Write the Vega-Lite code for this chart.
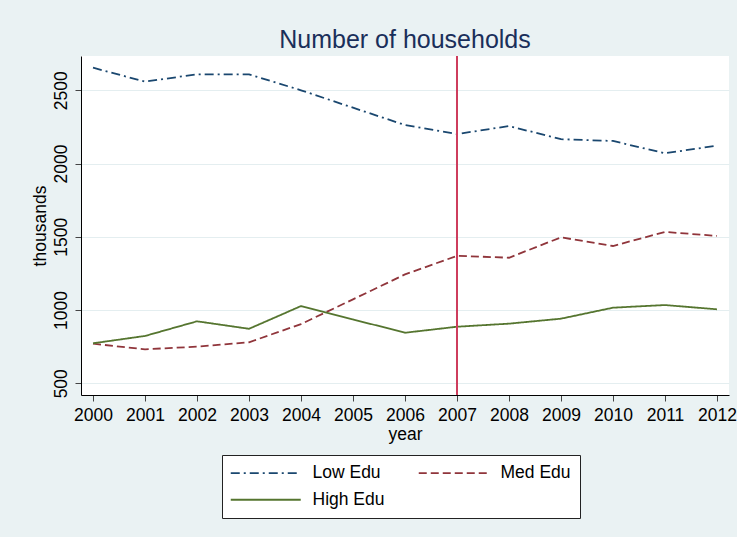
{
  "$schema": "https://vega.github.io/schema/vega-lite/v6.json",
  "width": 648,
  "height": 339,
  "autosize": {"type": "none"},
  "padding": {"left": 81, "top": 56, "right": 8, "bottom": 142},
  "background": "#EAF2F3",
  "title": {
    "text": "Number of households",
    "fontSize": 25,
    "font": "Liberation Sans",
    "fontWeight": "normal",
    "color": "#1A2F5A",
    "anchor": "middle",
    "frame": "group",
    "baseline": "alphabetic",
    "offset": -18
  },
  "config": {
    "view": {"fill": "white", "stroke": null},
    "axis": {
      "labelFont": "Liberation Sans",
      "titleFont": "Liberation Sans",
      "labelFontSize": 17.5,
      "titleFontSize": 17.5,
      "labelColor": "black",
      "titleColor": "black",
      "titleFontWeight": "normal",
      "domainColor": "black",
      "domainWidth": 1,
      "tickColor": "#444",
      "tickSize": 6,
      "gridColor": "#E4EEF0",
      "gridWidth": 1
    }
  },
  "layer": [
    {
      "data": {
        "values": [
          {"year": 2000, "series": "Low Edu", "value": 2654},
          {"year": 2001, "series": "Low Edu", "value": 2559},
          {"year": 2002, "series": "Low Edu", "value": 2609},
          {"year": 2003, "series": "Low Edu", "value": 2609},
          {"year": 2004, "series": "Low Edu", "value": 2500},
          {"year": 2005, "series": "Low Edu", "value": 2381},
          {"year": 2006, "series": "Low Edu", "value": 2263},
          {"year": 2007, "series": "Low Edu", "value": 2201},
          {"year": 2008, "series": "Low Edu", "value": 2256},
          {"year": 2009, "series": "Low Edu", "value": 2166},
          {"year": 2010, "series": "Low Edu", "value": 2154},
          {"year": 2011, "series": "Low Edu", "value": 2070},
          {"year": 2012, "series": "Low Edu", "value": 2122},
          {"year": 2000, "series": "Med Edu", "value": 770},
          {"year": 2001, "series": "Med Edu", "value": 732},
          {"year": 2002, "series": "Med Edu", "value": 750},
          {"year": 2003, "series": "Med Edu", "value": 780},
          {"year": 2004, "series": "Med Edu", "value": 904},
          {"year": 2005, "series": "Med Edu", "value": 1073},
          {"year": 2006, "series": "Med Edu", "value": 1243},
          {"year": 2007, "series": "Med Edu", "value": 1370},
          {"year": 2008, "series": "Med Edu", "value": 1357},
          {"year": 2009, "series": "Med Edu", "value": 1496},
          {"year": 2010, "series": "Med Edu", "value": 1437},
          {"year": 2011, "series": "Med Edu", "value": 1533},
          {"year": 2012, "series": "Med Edu", "value": 1506},
          {"year": 2000, "series": "High Edu", "value": 773},
          {"year": 2001, "series": "High Edu", "value": 823},
          {"year": 2002, "series": "High Edu", "value": 923},
          {"year": 2003, "series": "High Edu", "value": 872},
          {"year": 2004, "series": "High Edu", "value": 1027},
          {"year": 2005, "series": "High Edu", "value": 936},
          {"year": 2006, "series": "High Edu", "value": 845},
          {"year": 2007, "series": "High Edu", "value": 886},
          {"year": 2008, "series": "High Edu", "value": 907},
          {"year": 2009, "series": "High Edu", "value": 941},
          {"year": 2010, "series": "High Edu", "value": 1016},
          {"year": 2011, "series": "High Edu", "value": 1034},
          {"year": 2012, "series": "High Edu", "value": 1005}
        ]
      },
      "mark": {"type": "line", "strokeWidth": 1.8},
      "encoding": {
        "x": {
          "field": "year",
          "type": "quantitative",
          "scale": {"domain": [1999.769, 2012.231], "nice": false, "zero": false},
          "axis": {
            "values": [2000, 2001, 2002, 2003, 2004, 2005, 2006, 2007, 2008, 2009, 2010, 2011, 2012],
            "format": "d",
            "title": "year",
            "grid": false,
            "labelPadding": 5,
            "titlePadding": 2
          }
        },
        "y": {
          "field": "value",
          "type": "quantitative",
          "scale": {"domain": [420, 2734], "nice": false, "zero": false},
          "axis": {
            "values": [500, 1000, 1500, 2000, 2500],
            "format": "d",
            "title": "thousands",
            "labelAngle": -90,
            "labelAlign": "center",
            "labelBaseline": "bottom",
            "labelPadding": 5,
            "titlePadding": 3,
            "grid": true
          }
        },
        "color": {
          "field": "series",
          "type": "nominal",
          "scale": {"domain": ["Low Edu", "Med Edu", "High Edu"], "range": ["#1A476F", "#90353B", "#55752F"]},
          "legend": {
            "title": null,
            "orient": "none",
            "legendX": 141,
            "legendY": 399,
            "direction": "horizontal",
            "columns": 2,
            "symbolType": "M-5.833,0H5.833",
            "symbolSize": 144,
            "symbolOffset": 26,
            "symbolStrokeWidth": 1.8,
            "labelFont": "Liberation Sans",
            "labelFontSize": 17.5,
            "labelColor": "black",
            "labelOffset": 38,
            "fillColor": "white",
            "strokeColor": "#222",
            "padding": 9,
            "columnPadding": 30,
            "rowPadding": 8
          }
        },
        "strokeDash": {
          "field": "series",
          "type": "nominal",
          "scale": {"domain": ["Low Edu", "Med Edu", "High Edu"], "range": [[9, 4, 2, 4], [8, 4], [1, 0]]},
          "legend": {
            "title": null,
            "orient": "none",
            "legendX": 141,
            "legendY": 399,
            "direction": "horizontal",
            "columns": 2,
            "symbolType": "M-5.833,0H5.833",
            "symbolSize": 144,
            "symbolOffset": 26,
            "symbolStrokeWidth": 1.8,
            "labelFont": "Liberation Sans",
            "labelFontSize": 17.5,
            "labelColor": "black",
            "labelOffset": 38,
            "fillColor": "white",
            "strokeColor": "#222",
            "padding": 9,
            "columnPadding": 30,
            "rowPadding": 8
          }
        }
      }
    },
    {
      "data": {"values": [{"year": 2007}]},
      "mark": {"type": "rule", "color": "#CE3D5D", "strokeWidth": 2},
      "encoding": {"x": {"field": "year", "type": "quantitative"}}
    }
  ]
}
